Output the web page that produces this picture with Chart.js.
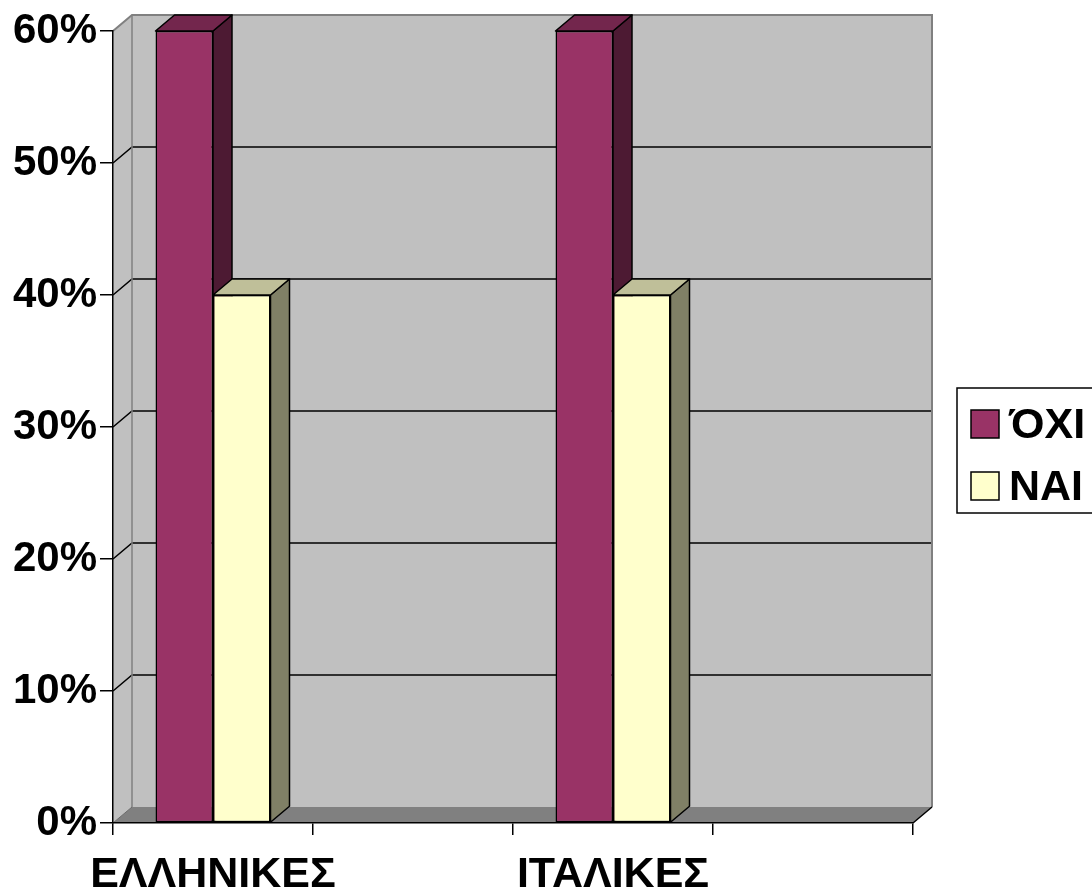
<!DOCTYPE html>
<html>
<head>
<meta charset="utf-8">
<script src="https://cdn.jsdelivr.net/npm/chart.js@4.4.0/dist/chart.umd.min.js"></script>
<style>
  html, body { margin: 0; padding: 0; background: #ffffff; }
  #wrap { width: 1092px; height: 892px; }
</style>
</head>
<body>
<div id="wrap"><canvas id="c" width="1092" height="892"></canvas></div>
<script>
// Categories (empty slots keep the wide spacing of the axis)
const categories = ['ΕΛΛΗΝΙΚΕΣ', '', 'ΙΤΑΛΙΚΕΣ', ''];
const seriesNames = ['ΌΧΙ', 'ΝΑΙ'];
const valuesOxi = [60, null, 60, null];
const valuesNai = [40, null, 40, null];
const yTickValues = [0, 10, 20, 30, 40, 50, 60];

// Face colours for each series: front, top, side
const faceColors = [
  { front: '#993366', top: '#73264d', side: '#4d1a33' },
  { front: '#ffffcc', top: '#bfbf99', side: '#808066' }
];

const DX = 19;   // depth offset to the right
const DY = -16;  // depth offset upwards
const FONT = '"Liberation Sans", Arial, sans-serif';

function poly(ctx, pts, fill, stroke, lw) {
  ctx.beginPath();
  ctx.moveTo(pts[0][0], pts[0][1]);
  for (let i = 1; i < pts.length; i++) ctx.lineTo(pts[i][0], pts[i][1]);
  ctx.closePath();
  if (fill) { ctx.fillStyle = fill; ctx.fill(); }
  if (stroke) { ctx.strokeStyle = stroke; ctx.lineWidth = lw || 1.5; ctx.stroke(); }
}

function line(ctx, pts, color, lw) {
  ctx.beginPath();
  ctx.moveTo(pts[0][0], pts[0][1]);
  for (let i = 1; i < pts.length; i++) ctx.lineTo(pts[i][0], pts[i][1]);
  ctx.strokeStyle = color;
  ctx.lineWidth = lw;
  ctx.stroke();
}

// Back wall, side wall, floor and the gridlines drawn on the walls
const wallsPlugin = {
  id: 'walls',
  beforeDraw(chart) {
    const ctx = chart.ctx;
    const { left, right, top, bottom } = chart.chartArea;
    const y = chart.scales.y;
    ctx.save();
    ctx.fillStyle = '#ffffff';
    ctx.fillRect(0, 0, chart.width, chart.height);
    ctx.lineJoin = 'miter';

    // back wall
    poly(ctx, [[left + DX, top + DY], [right + DX, top + DY], [right + DX, bottom + DY], [left + DX, bottom + DY]], '#c0c0c0');
    // left side wall
    poly(ctx, [[left, top], [left + DX, top + DY], [left + DX, bottom + DY], [left, bottom]], '#c0c0c0');
    // floor
    poly(ctx, [[left, bottom], [left + DX, bottom + DY], [right + DX, bottom + DY], [right, bottom]], '#808080');

    // gridlines on side and back walls
    yTickValues.forEach(v => {
      if (v === yTickValues[0] || v === yTickValues[yTickValues.length - 1]) return;
      const py = y.getPixelForValue(v);
      line(ctx, [[left, py], [left + DX, py + DY], [right + DX, py + DY]], '#000000', 1.5);
    });

    // wall edges
    line(ctx, [[left, top], [left + DX, top + DY], [right + DX, top + DY], [right + DX, bottom + DY]], '#808080', 2);
    line(ctx, [[left + DX, top + DY], [left + DX, bottom + DY]], '#808080', 1.5);
    line(ctx, [[left, bottom], [left + DX, bottom + DY]], '#6a6a6a', 1);
    line(ctx, [[right, bottom], [right + DX, bottom + DY]], '#000000', 1.5);
    ctx.restore();
  }
};

// Top and side faces of every column, drawn from the bar elements
const columnsPlugin = {
  id: 'columns3d',
  beforeDatasetsDraw(chart) {
    const ctx = chart.ctx;
    ctx.save();
    ctx.lineJoin = 'round';
    for (let i = 0; i < categories.length; i++) {
      chart.data.datasets.forEach((ds, d) => {
        if (ds.data[i] === null) return;
        const bar = chart.getDatasetMeta(d).data[i];
        const x0 = bar.x - bar.width / 2;
        const x1 = bar.x + bar.width / 2;
        const yT = bar.y;
        const yB = bar.base;
        const c = faceColors[d];
        poly(ctx, [[x1, yT], [x1 + DX, yT + DY], [x1 + DX, yB + DY], [x1, yB]], c.side, '#000000', 1.5);
        poly(ctx, [[x0, yT], [x0 + DX, yT + DY], [x1 + DX, yT + DY], [x1, yT]], c.top, '#000000', 1.5);
      });
    }
    ctx.restore();
  }
};

// Boxed legend on the right
const legendPlugin = {
  id: 'boxLegend',
  afterDraw(chart) {
    const ctx = chart.ctx;
    ctx.save();
    ctx.lineWidth = 1.5;
    ctx.strokeStyle = '#000000';
    ctx.strokeRect(957, 388, 200, 125);
    ctx.font = 'bold 43px ' + FONT;
    ctx.textBaseline = 'middle';
    ctx.textAlign = 'left';
    chart.data.datasets.forEach((ds, k) => {
      const sy = 410 + k * 62;
      ctx.fillStyle = ds.backgroundColor;
      ctx.fillRect(971, sy, 28, 28);
      ctx.strokeRect(971, sy, 28, 28);
      ctx.fillStyle = '#000000';
      ctx.fillText(ds.label, 1009, sy + 16);
    });
    ctx.restore();
  }
};

new Chart(document.getElementById('c'), {
  type: 'bar',
  data: {
    labels: categories,
    datasets: [
      { label: seriesNames[0], data: valuesOxi, backgroundColor: faceColors[0].front },
      { label: seriesNames[1], data: valuesNai, backgroundColor: faceColors[1].front }
    ]
  },
  options: {
    responsive: false,
    animation: false,
    devicePixelRatio: 1,
    events: [],
    layout: { padding: { top: 31, right: 179, left: 0, bottom: 0 } },
    datasets: {
      bar: {
        categoryPercentage: 0.575,
        barPercentage: 1.0,
        borderColor: '#000000',
        borderWidth: 1.5,
        borderSkipped: false,
        clip: false
      }
    },
    plugins: {
      legend: { display: false },
      tooltip: { enabled: false },
      title: { display: false }
    },
    scales: {
      x: {
        offset: true,
        grid: {
          offset: true,
          drawOnChartArea: false,
          drawTicks: true,
          tickLength: 12,
          color: '#000000',
          lineWidth: 1.5
        },
        border: { display: true, color: '#000000', width: 1.5 },
        ticks: {
          autoSkip: false,
          maxRotation: 0,
          minRotation: 0,
          padding: 14,
          color: '#000000',
          font: { family: FONT, size: 43, weight: 'bold' }
        },
        afterFit(scale) { scale.height = 69; }
      },
      y: {
        min: 0,
        max: 60,
        afterBuildTicks(scale) { scale.ticks = yTickValues.map(v => ({ value: v })); },
        grid: {
          drawOnChartArea: false,
          drawTicks: true,
          tickLength: 13,
          color: '#000000',
          lineWidth: 1.5
        },
        border: { display: true, color: '#000000', width: 1.5 },
        ticks: {
          padding: 3,
          color: '#000000',
          font: { family: FONT, size: 42, weight: 'bold' },
          callback: v => v + '%'
        },
        afterFit(scale) { scale.width = 113; }
      }
    }
  },
  plugins: [wallsPlugin, columnsPlugin, legendPlugin]
});
</script>
</body>
</html>
